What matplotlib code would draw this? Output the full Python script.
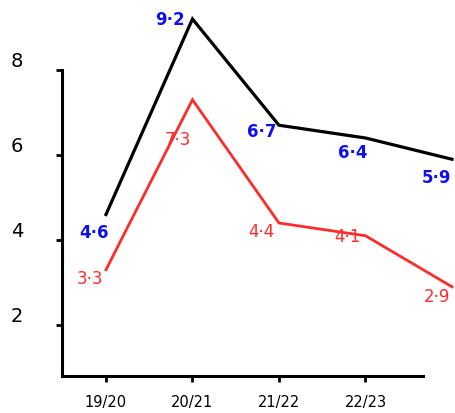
import numpy as np
import matplotlib
matplotlib.use("Agg")
import matplotlib.pyplot as plt

# Data
years = ["19/20", "20/21", "21/22", "22/23"]
black_vals = [4.6, 9.2, 6.7, 6.4, 5.9]
red_vals = [3.3, 7.3, 4.4, 4.1, 2.9]
black_labels = ["4·6", "9·2", "6·7", "6·4", "5·9"]
red_labels = ["3·3", "7·3", "4·4", "4·1", "2·9"]
y_ticks = [2, 4, 6, 8]

# label offsets in pixels (dx, dy)
black_off = [(-12, -17), (-23, 0), (-17, -6), (-13, -14), (-15, -18)]
red_off = [(-16, -8), (-15, -39), (-18, -8), (-18, 0), (-15, -9)]

blue = "#1010ee"
red = "#ff2b2b"

fig = plt.figure(figsize=(4.55, 4.14), dpi=100)
ax = fig.add_axes([0, 0, 1, 1])
ax.set_xlim(-1.225, 4.035)
ax.set_ylim(-0.07, 9.67)

x = np.arange(len(black_vals))
ax.plot(x, black_vals, color="black", lw=2.3, solid_joinstyle="miter")
ax.plot(x, red_vals, color=red, lw=2.0, solid_joinstyle="miter")

for xi, v, lab, off in zip(x, black_vals, black_labels, black_off):
    ax.annotate(lab, (xi, v), xytext=off, textcoords="offset pixels",
                ha="center", va="center", color=blue, fontsize=12,
                fontweight="bold", annotation_clip=False)
for xi, v, lab, off in zip(x, red_vals, red_labels, red_off):
    ax.annotate(lab, (xi, v), xytext=off, textcoords="offset pixels",
                ha="center", va="center", color=red, fontsize=12,
                annotation_clip=False)

# axes drawn like the sketch
for s in ["top", "right"]:
    ax.spines[s].set_visible(False)
ax.spines["left"].set_position(("data", -0.509))
ax.spines["left"].set_bounds(0.8, 8)
ax.spines["bottom"].set_position(("data", 0.8))
ax.spines["bottom"].set_bounds(-0.509, 3.665)
for s in ["left", "bottom"]:
    ax.spines[s].set_linewidth(2.2)

ax.set_yticks(y_ticks)
ax.set_yticklabels([str(t) for t in y_ticks], fontsize=14)
ax.set_xticks(range(len(years)))
ax.set_xticklabels(years, fontsize=10.5)
ax.tick_params(axis="y", length=4, width=2, pad=24)
ax.tick_params(axis="x", length=4, width=2, pad=9)
for t in ax.get_yticklabels():
    t.set_verticalalignment("bottom")

fig.savefig("out.png", dpi=100)
